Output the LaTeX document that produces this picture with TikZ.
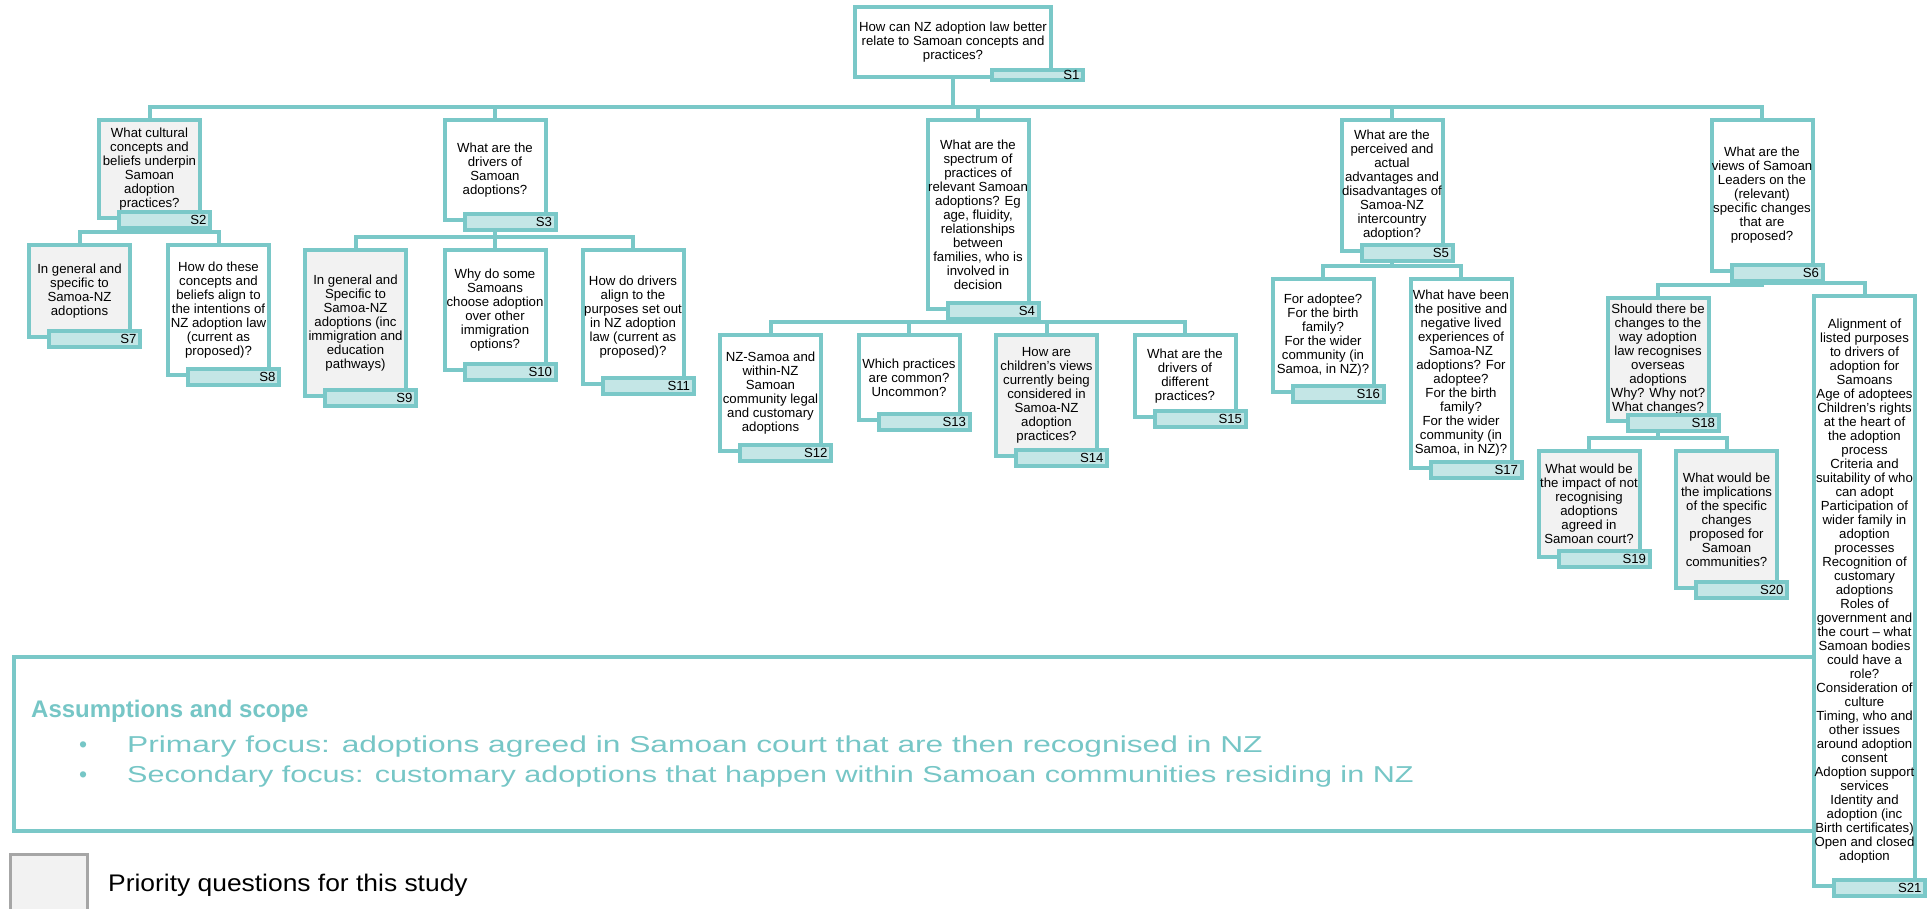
\documentclass[tikz,border=0pt]{standalone}
\usepackage{fontspec}
\setmainfont{Liberation Sans}
\usepackage{graphicx}
\usetikzlibrary{positioning, backgrounds}
\definecolor{tealline}{RGB}{122,200,200}
\definecolor{tagfill}{RGB}{196,230,230}
\definecolor{priofill}{RGB}{242,242,242}
\definecolor{scopetext}{RGB}{118,198,198}
\definecolor{keyline}{RGB}{166,166,166}
\tikzset{
  qbox/.style={draw=tealline, line width=4pt, fill=white, minimum width=101pt,
    inner sep=0pt, align=center, font=\fontsize{13.2}{14}\selectfont},
  prio/.style={qbox, fill=priofill},
  tagbox/.style={draw=tealline, line width=4pt, fill=tagfill, text width=84pt,
    inner xsep=3.5pt, inner ysep=0pt, minimum height=16pt, align=right,
    font=\fontsize{13.2}{14}\selectfont},
  treelink/.style={draw=tealline, line width=4pt,
    to path={|- ([yshift=11pt]\tikztotarget) -- (\tikztotarget)}},
  scopetxt/.style={inner sep=0pt, anchor=west, text=scopetext,
    font=\fontsize{23}{26}\selectfont}
}

\begin{document}
\begin{tikzpicture}[x=1pt, y=-1pt]
    \useasboundingbox (0,0) rectangle (1932,909);

    % assumptions and scope (behind the tree)
    \node[draw=tealline, line width=4pt, minimum width=1869pt, minimum height=174pt] (assume) at (948.5,744) {};
    \node[scopetxt, font=\fontsize{24}{26}\selectfont\bfseries] (head) at (31,711) {Assumptions and scope};
    \node[scopetxt] (dot1) at (79,747) {\textbullet};
    \node[scopetxt] (dot2) at (79,777) {\textbullet};
    \node[scopetxt] (aim1) at (127,747)
      {\scalebox{1.38}[1]{Primary focus: adoptions agreed in Samoan court that are then recognised in NZ}};
    \node[scopetxt] (aim2) at (127,777)
      {\scalebox{1.33}[1]{Secondary focus: customary adoptions that happen within Samoan communities residing in NZ}};

    % key
    \node[draw=keyline, line width=3pt, fill=priofill, minimum width=77pt, minimum height=62pt] (key) at (49,885.5) {};
    \node[right=19pt of key, inner sep=0pt, font=\fontsize{24}{26}\selectfont] (keytext)
      {\scalebox{1.1}[1]{Priority questions for this study}};

    % top question
    \node[qbox, minimum width=196pt, minimum height=70pt] (s1) at (953,42)
      {How can NZ adoption law better\\relate to Samoan concepts and\\practices?};
    \node[tagbox, anchor=east, minimum height=8pt] (t1) at ([xshift=32pt, yshift=4pt]s1.south east) {S1};

    % second level
    \node[prio, minimum height=98pt] (s2) at (149.5,169)
      {What cultural\\concepts and\\beliefs underpin\\Samoan\\adoption\\practices?};
    \node[tagbox, anchor=east] (t2) at ([xshift=10pt]s2.south east) {S2};
    \node[qbox, minimum height=100pt] (s3) at (495,170)
      {What are the\\drivers of\\Samoan\\adoptions?};
    \node[tagbox, anchor=east] (t3) at ([xshift=10pt]s3.south east) {S3};
    \node[qbox, minimum height=189pt] (s4) at (978,214.5)
      {What are the\\spectrum of\\practices of\\relevant Samoan\\adoptions? Eg\\age, fluidity,\\relationships\\between\\families, who is\\involved in\\decision};
    \node[tagbox, anchor=east] (t4) at ([xshift=10pt]s4.south east) {S4};
    \node[qbox, minimum height=131pt] (s5) at (1392,185.5)
      {What are the\\perceived and\\actual\\advantages and\\disadvantages of\\Samoa-NZ\\intercountry\\adoption?};
    \node[tagbox, anchor=east] (t5) at ([xshift=10pt]s5.south east) {S5};
    \node[qbox, minimum height=151pt] (s6) at (1762,195.5)
      {What are the\\views of Samoan\\Leaders on the\\(relevant)\\specific changes\\that are\\proposed?};
    \node[tagbox, anchor=east] (t6) at ([xshift=10pt]s6.south east) {S6};

    % third level
    \node[prio, minimum height=92pt] (s7) at (79.5,291)
      {In general and\\specific to\\Samoa-NZ\\adoptions};
    \node[tagbox, anchor=east] (t7) at ([xshift=10pt]s7.south east) {S7};
    \node[qbox, minimum height=130pt] (s8) at (218.5,310)
      {How do these\\concepts and\\beliefs align to\\the intentions of\\NZ adoption law\\(current as\\proposed)?};
    \node[tagbox, anchor=east] (t8) at ([xshift=10pt]s8.south east) {S8};
    \node[prio, minimum height=146pt] (s9) at (355.5,323)
      {In general and\\Specific to\\Samoa-NZ\\adoptions (inc\\immigration and\\education\\pathways)};
    \node[tagbox, anchor=east] (t9) at ([xshift=10pt]s9.south east) {S9};
    \node[qbox, minimum height=120pt] (s10) at (495,310)
      {Why do some\\Samoans\\choose adoption\\over other\\immigration\\options?};
    \node[tagbox, anchor=east] (t10) at ([xshift=10pt]s10.south east) {S10};
    \node[qbox, minimum height=134pt] (s11) at (633,317)
      {How do drivers\\align to the\\purposes set out\\in NZ adoption\\law (current as\\proposed)?};
    \node[tagbox, anchor=east] (t11) at ([xshift=10pt]s11.south east) {S11};
    \node[qbox, minimum height=116pt] (s12) at (770.5,393)
      {NZ-Samoa and\\within-NZ\\Samoan\\community legal\\and customary\\adoptions};
    \node[tagbox, anchor=east] (t12) at ([xshift=10pt]s12.south east) {S12};
    \node[qbox, minimum height=85pt] (s13) at (909,377.5)
      {Which practices\\are common?\\Uncommon?};
    \node[tagbox, anchor=east] (t13) at ([xshift=10pt]s13.south east) {S13};
    \node[prio, minimum height=121pt] (s14) at (1046.5,395.5)
      {How are\\children’s views\\currently being\\considered in\\Samoa-NZ\\adoption\\practices?};
    \node[tagbox, anchor=east] (t14) at ([xshift=10pt]s14.south east) {S14};
    \node[qbox, minimum height=82pt] (s15) at (1185,376)
      {What are the\\drivers of\\different\\practices?};
    \node[tagbox, anchor=east] (t15) at ([xshift=10pt]s15.south east) {S15};
    \node[qbox, minimum height=113pt] (s16) at (1323,335.5)
      {For adoptee?\\For the birth\\family?\\For the wider\\community (in\\Samoa, in NZ)?};
    \node[tagbox, anchor=east] (t16) at ([xshift=10pt]s16.south east) {S16};
    \node[qbox, minimum height=189pt] (s17) at (1461,373.5)
      {What have been\\the positive and\\negative lived\\experiences of\\Samoa-NZ\\adoptions? For\\adoptee?\\For the birth\\family?\\For the wider\\community (in\\Samoa, in NZ)?};
    \node[tagbox, anchor=east] (t17) at ([xshift=10pt]s17.south east) {S17};
    \node[prio, minimum height=123pt] (s18) at (1658,359.5)
      {Should there be\\changes to the\\way adoption\\law recognises\\overseas\\adoptions\\Why? Why not?\\What changes?};
    \node[tagbox, anchor=east] (t18) at ([xshift=10pt]s18.south east) {S18};
    \node[qbox, minimum height=590pt] (s21) at (1864.5,591)
      {Alignment of\\listed purposes\\to drivers of\\adoption for\\Samoans\\Age of adoptees\\Children’s rights\\at the heart of\\the adoption\\process\\Criteria and\\suitability of who\\can adopt\\Participation of\\wider family in\\adoption\\processes\\Recognition of\\customary\\adoptions\\Roles of\\government and\\the court – what\\Samoan bodies\\could have a\\role?\\Consideration of\\culture\\Timing, who and\\other issues\\around adoption\\consent\\Adoption support\\services\\Identity and\\adoption (inc\\Birth certificates)\\Open and closed\\adoption};
    \node[tagbox, anchor=east] (t21) at ([xshift=10pt]s21.south east) {S21};

    % fourth level
    \node[prio, minimum height=106pt] (s19) at (1589,504)
      {What would be\\the impact of not\\recognising\\adoptions\\agreed in\\Samoan court?};
    \node[tagbox, anchor=east] (t19) at ([xshift=10pt]s19.south east) {S19};
    \node[prio, minimum height=137pt] (s20) at (1726.5,519.5)
      {What would be\\the implications\\of the specific\\changes\\proposed for\\Samoan\\communities?};
    \node[tagbox, anchor=east] (t20) at ([xshift=10pt]s20.south east) {S20};

    % connectors
    \begin{scope}[on background layer, every edge/.style={treelink}]
      \path (s1.south) edge (s2.north);
      \path (s1.south) edge (s3.north);
      \path (s1.south) edge (s4.north);
      \path (s1.south) edge (s5.north);
      \path (s1.south) edge (s6.north);
      \path (s2.south) edge (s7.north);
      \path (s2.south) edge (s8.north);
      \path (s3.south) edge (s9.north);
      \path (s3.south) edge (s10.north);
      \path (s3.south) edge (s11.north);
      \path (s4.south) edge (s12.north);
      \path (s4.south) edge (s13.north);
      \path (s4.south) edge (s14.north);
      \path (s4.south) edge (s15.north);
      \path (s5.south) edge (s16.north);
      \path (s5.south) edge (s17.north);
      \path (s6.south) edge (s18.north);
      \path (s6.south) edge (s21.north);
      \path (s18.south) edge (s19.north);
      \path (s18.south) edge (s20.north);
    \end{scope}
\end{tikzpicture}
\end{document}
